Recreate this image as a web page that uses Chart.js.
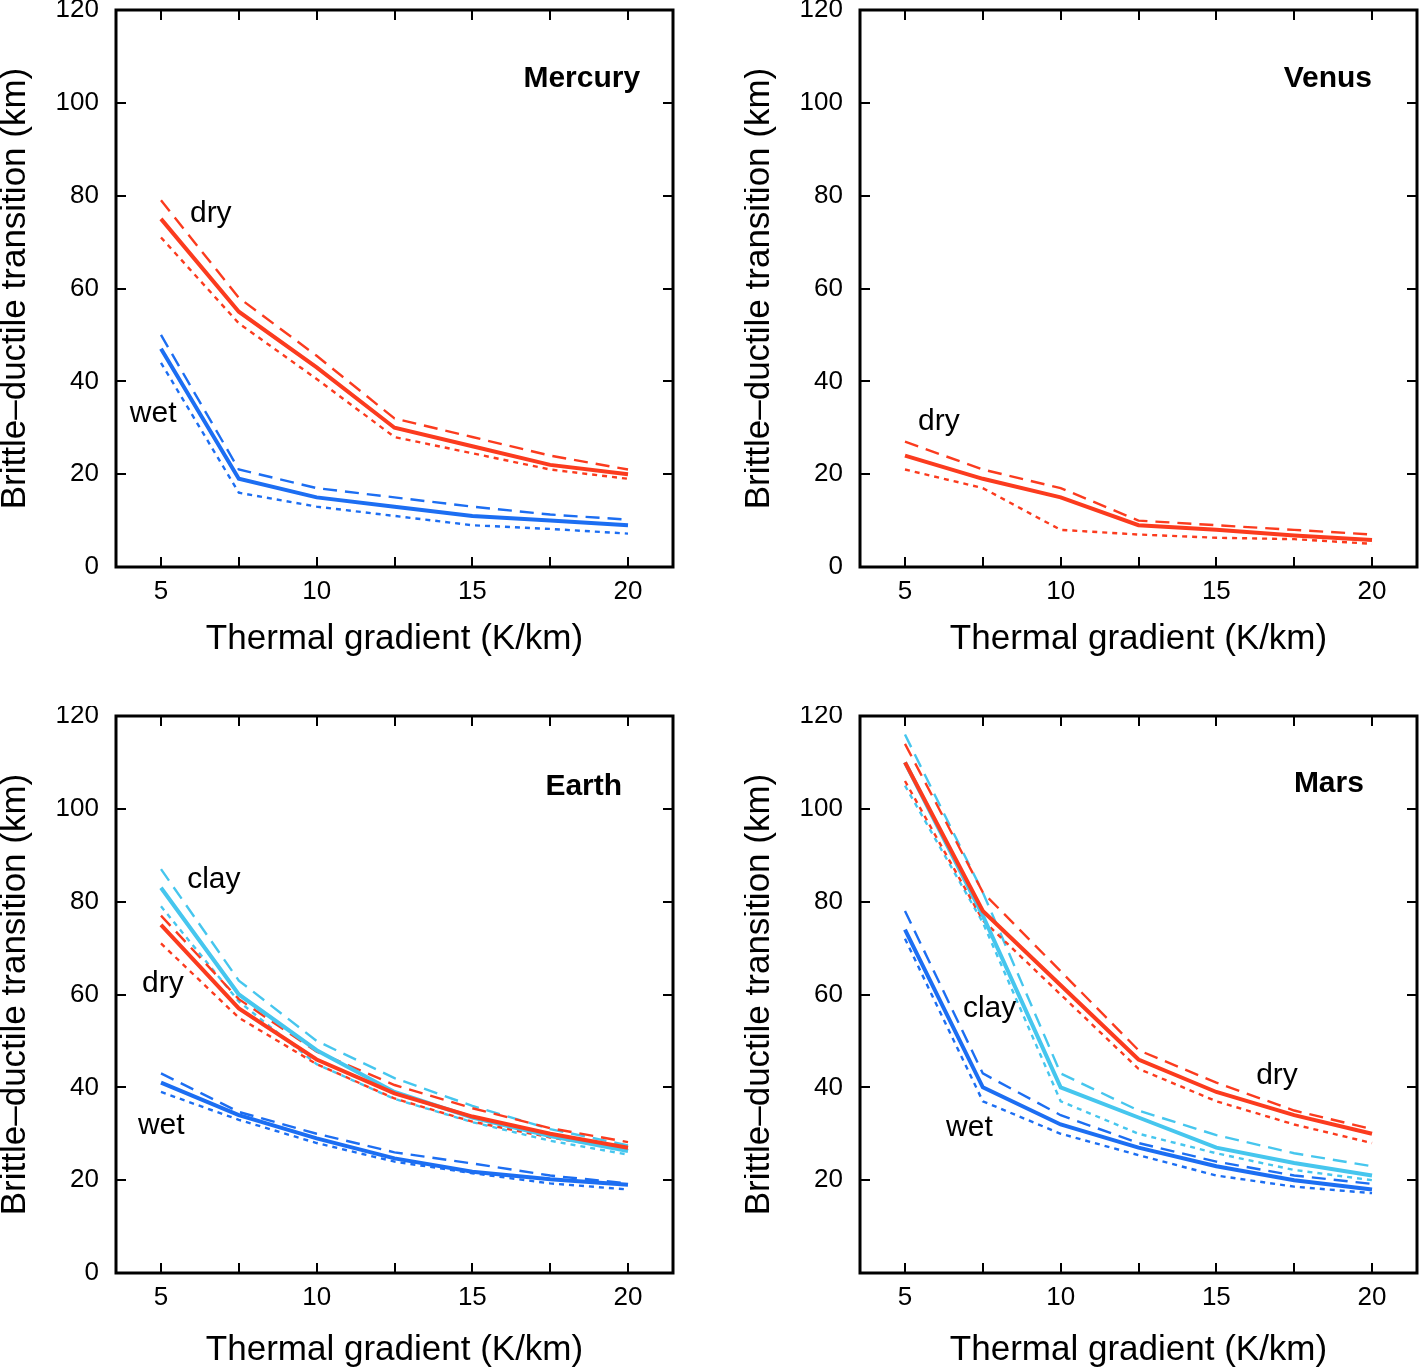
<!DOCTYPE html>
<html>
<head>
<meta charset="utf-8">
<script src="https://cdn.jsdelivr.net/npm/chart.js@4.4.0/dist/chart.umd.min.js"></script>
<style>
  body { margin: 0; background: #fff; width: 1419px; height: 1368px; position: relative; overflow: hidden; }
  .panel { position: absolute; }
</style>
</head>
<body>
<div class="panel" style="left:0;top:0"><canvas id="mercury" width="675" height="662"></canvas></div>
<div class="panel" style="left:744px;top:0"><canvas id="venus" width="675" height="662"></canvas></div>
<div class="panel" style="left:0;top:706px"><canvas id="earth" width="675" height="662"></canvas></div>
<div class="panel" style="left:744px;top:706px"><canvas id="mars" width="675" height="662"></canvas></div>
<script>
// thermal gradient (K/km) sampled in every panel
const gradient = [5, 7.5, 10, 12.5, 15, 17.5, 20];
const xTicks = [5, 7.5, 10, 12.5, 15, 17.5, 20];
const yTicks = [0, 20, 40, 60, 80, 100, 120];

// brittle-ductile transition depth (km); High = dashed, Low = dotted
const mercuryDry     = [75, 55, 43, 30, 26, 22, 20];
const mercuryDryHigh = [79, 58, 45.5, 32, 28, 24, 21];
const mercuryDryLow  = [71, 52.5, 40.5, 28, 24.5, 21, 19];
const mercuryWet     = [47, 19, 15, 13, 11, 10, 9];
const mercuryWetHigh = [50, 21, 17, 15, 13, 11.3, 10.2];
const mercuryWetLow  = [44, 16, 13, 11, 9, 8.2, 7.2];

const venusDry     = [24, 19, 15, 9, 8, 6.8, 5.8];
const venusDryHigh = [27, 21, 17, 10, 9, 8, 7];
const venusDryLow  = [21, 17, 8, 7, 6.3, 6, 5];

const earthClay     = [83, 60, 48, 39, 33.5, 29.5, 26.3];
const earthClayHigh = [87, 63, 50, 42, 36, 31, 27.5];
const earthClayLow  = [79, 58.5, 45, 37.5, 32.5, 28.5, 25.5];
const earthDry      = [75, 57, 46, 38.7, 33.7, 30, 27];
const earthDryHigh  = [77, 59, 47.7, 40.5, 35.5, 31.2, 28.2];
const earthDryLow   = [71, 55, 45, 37.6, 32.6, 29.2, 26.5];
const earthWet      = [41, 34, 29, 24.7, 21.8, 20.2, 19];
const earthWetHigh  = [43, 34.7, 30, 26, 23.6, 21, 19.3];
const earthWetLow   = [39, 33, 28, 24, 21.5, 19.3, 18];

const marsClay     = [110, 77, 40, 33.5, 27, 23.7, 21];
const marsClayHigh = [116, 82, 43, 35, 29.7, 25.8, 23];
const marsClayLow  = [105, 75.5, 37, 30, 25.8, 22.2, 20];
const marsDry      = [110, 78, 62, 46, 39, 34, 30];
const marsDryHigh  = [114, 82, 65, 48, 41, 35, 31];
const marsDryLow   = [106, 76, 60, 44, 37, 32, 28];
const marsWet      = [74, 40, 32, 27, 23, 20, 18];
const marsWetHigh  = [78, 43, 34, 28, 24, 21, 19.2];
const marsWetLow   = [72, 37, 30, 25.4, 21, 18.6, 17.2];

const RED = '#fb3b1e';
const BLUE = '#1c6ef2';
const CYAN = '#46c6ee';
const FONT = '"Liberation Sans", Arial, Helvetica, sans-serif';

function line(values, color, style) {
    const ds = {
        data: gradient.map((g, i) => ({ x: g, y: values[i] })),
        borderColor: color,
        backgroundColor: color,
        pointRadius: 0,
        fill: false,
        tension: 0,
        borderWidth: style === 'solid' ? 4 : 2.4,
        borderDash: style === 'dash' ? [14, 8] : (style === 'dot' ? [5, 5] : [])
    };
    return ds;
}

// frame with inward ticks on all sides + text annotations
const framePlugin = {
    id: 'frame',
    afterDraw(chart, args, opts) {
        const { ctx, chartArea: a, scales: { x, y } } = chart;
        ctx.save();
        ctx.strokeStyle = '#000';
        ctx.lineWidth = 2;
        ctx.beginPath();
        xTicks.forEach(v => {
            const px = Math.round(x.getPixelForValue(v));
            ctx.moveTo(px, a.bottom); ctx.lineTo(px, a.bottom - 10);
            ctx.moveTo(px, a.top); ctx.lineTo(px, a.top + 10);
        });
        yTicks.forEach(v => {
            const py = Math.round(y.getPixelForValue(v));
            ctx.moveTo(a.left, py); ctx.lineTo(a.left + 10, py);
            ctx.moveTo(a.right, py); ctx.lineTo(a.right - 10, py);
        });
        ctx.stroke();
        ctx.lineWidth = 3;
        ctx.strokeRect(a.left, a.top, a.right - a.left, a.bottom - a.top);

        ctx.fillStyle = '#000';
        ctx.textBaseline = 'middle';
        (opts.items || []).forEach(it => {
            ctx.font = (it.bold ? 'bold ' : '') + '30px ' + FONT;
            ctx.textAlign = it.align || 'left';
            ctx.fillText(it.text, x.getPixelForValue(it.x), y.getPixelForValue(it.y));
        });
        ctx.restore();
    }
};

function noPad(s) {
    s.paddingTop = 0; s.paddingBottom = 0;
    s.paddingLeft = 0; s.paddingRight = 0;
}

function makeChart(id, datasets, items, hideZero, titlePad) {
    return new Chart(document.getElementById(id), {
        type: 'line',
        data: { datasets: datasets },
        plugins: [framePlugin],
        options: {
            responsive: false,
            animation: false,
            devicePixelRatio: 1,
            layout: { padding: { top: 10, right: 2, left: 0, bottom: 0 } },
            plugins: {
                legend: { display: false },
                tooltip: { enabled: false },
                frame: { items: items }
            },
            scales: {
                x: {
                    type: 'linear',
                    min: 3.555,
                    max: 21.445,
                    grid: { display: false, drawTicks: false },
                    border: { display: false },
                    afterBuildTicks: s => { s.ticks = xTicks.map(v => ({ value: v })); },
                    afterFit: s => { s.height = 95; noPad(s); },
                    ticks: {
                        autoSkip: false,
                        maxRotation: 0,
                        padding: 9,
                        color: '#000',
                        font: { family: FONT, size: 26 },
                        callback: v => (v % 5 === 0 ? String(v) : '')
                    },
                    title: {
                        display: true,
                        text: 'Thermal gradient (K/km)',
                        color: '#000',
                        font: { family: FONT, size: 35, lineHeight: 1 },
                        padding: { top: 0, bottom: titlePad }
                    }
                },
                y: {
                    min: 0,
                    max: 120,
                    grid: { display: false, drawTicks: false },
                    border: { display: false },
                    afterBuildTicks: s => { s.ticks = yTicks.map(v => ({ value: v })); },
                    afterFit: s => { s.width = 116; noPad(s); },
                    ticks: {
                        padding: 17,
                        color: '#000',
                        font: { family: FONT, size: 26 },
                        callback: v => (hideZero && v === 0 ? '' : String(v))
                    },
                    title: {
                        display: true,
                        text: 'Brittle\u2013ductile transition (km)',
                        color: '#000',
                        font: { family: FONT, size: 35, lineHeight: 0.86 },
                        padding: 0
                    }
                }
            }
        }
    });
}

makeChart('mercury', [
    line(mercuryDry, RED, 'solid'),
    line(mercuryWet, BLUE, 'solid'),
    line(mercuryDryHigh, RED, 'dash'),
    line(mercuryDryLow, RED, 'dot'),
    line(mercuryWetHigh, BLUE, 'dash'),
    line(mercuryWetLow, BLUE, 'dot')
], [
    { text: 'Mercury', x: 20.39, y: 105.2, bold: true, align: 'right' },
    { text: 'dry', x: 5.93, y: 76.0 },
    { text: 'wet', x: 4.0, y: 33.0 }
], false, 5);

makeChart('venus', [
    line(venusDry, RED, 'solid'),
    line(venusDryHigh, RED, 'dash'),
    line(venusDryLow, RED, 'dot')
], [
    { text: 'Venus', x: 20.0, y: 105.2, bold: true, align: 'right' },
    { text: 'dry', x: 5.42, y: 31.3 }
], false, 5);

makeChart('earth', [
    line(earthDry, RED, 'solid'),
    line(earthClay, CYAN, 'solid'),
    line(earthWet, BLUE, 'solid'),
    line(earthDryHigh, RED, 'dash'),
    line(earthDryLow, RED, 'dot'),
    line(earthClayHigh, CYAN, 'dash'),
    line(earthClayLow, CYAN, 'dot'),
    line(earthWetHigh, BLUE, 'dash'),
    line(earthWetLow, BLUE, 'dot')
], [
    { text: 'Earth', x: 19.81, y: 104.8, bold: true, align: 'right' },
    { text: 'clay', x: 5.84, y: 84.8 },
    { text: 'dry', x: 4.39, y: 62.4 },
    { text: 'wet', x: 4.26, y: 31.8 }
], false, 0);

makeChart('mars', [
    line(marsDry, RED, 'solid'),
    line(marsClay, CYAN, 'solid'),
    line(marsWet, BLUE, 'solid'),
    line(marsDryHigh, RED, 'dash'),
    line(marsDryLow, RED, 'dot'),
    line(marsClayHigh, CYAN, 'dash'),
    line(marsClayLow, CYAN, 'dot'),
    line(marsWetHigh, BLUE, 'dash'),
    line(marsWetLow, BLUE, 'dot')
], [
    { text: 'Mars', x: 19.74, y: 105.4, bold: true, align: 'right' },
    { text: 'clay', x: 6.86, y: 57.0 },
    { text: 'dry', x: 16.28, y: 42.4 },
    { text: 'wet', x: 6.32, y: 31.2 }
], true, 0);
</script>
</body>
</html>
